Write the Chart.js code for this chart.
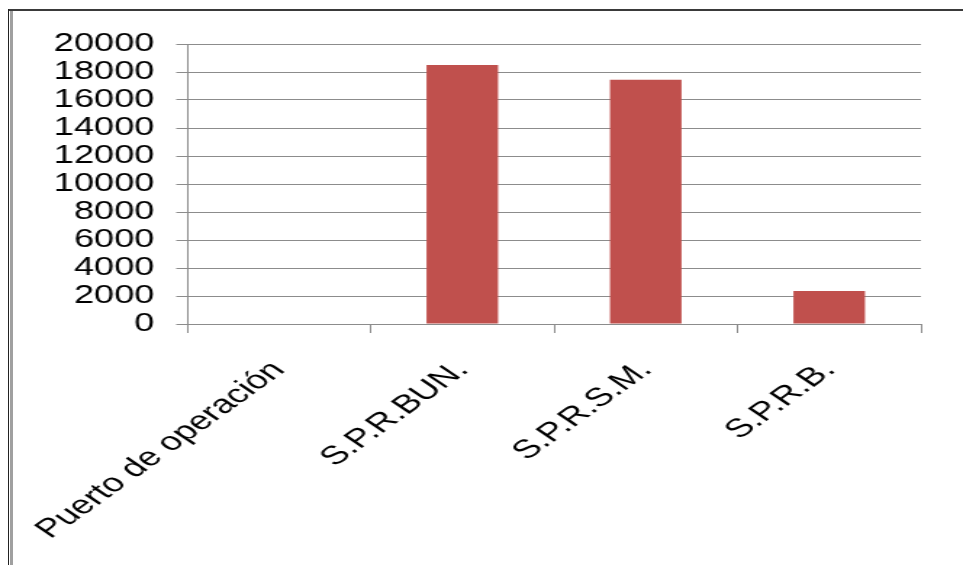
<!DOCTYPE html>
<html>
<head>
<meta charset="utf-8">
<script src="https://cdn.jsdelivr.net/npm/chart.js@4"></script>
<style>
  html, body { margin: 0; padding: 0; background: #fff; overflow: hidden; }
  #page { position: relative; width: 963px; height: 565px; overflow: hidden; }
  /* the chart is laid out narrow and stretched sideways */
  #stretch { position: absolute; left: 0; top: 0; width: 664px; height: 565px;
             transform: scaleX(1.4503); transform-origin: 0 0; }
  #frameTop { position: absolute; left: 8px; top: 9px; width: 955px; height: 2px; background: #3a3a3a; }
  #frameLeftDark { position: absolute; left: 8px; top: 9px; width: 1px; height: 556px; background: #222; }
  #frameLeftGray { position: absolute; left: 10px; top: 11px; width: 3px; height: 554px; background: #a0a0a0; }
</style>
</head>
<body>
<div id="page">
  <div id="stretch"><canvas id="c" width="664" height="565"></canvas></div>
  <div id="frameTop"></div>
  <div id="frameLeftDark"></div>
  <div id="frameLeftGray"></div>
</div>
<script>
// Categories along the horizontal axis
const categories = ["Puerto de operación", "S.P.R.BUN.", "S.P.R.S.M.", "S.P.R.B."];
// Series values (first category carries no bar)
const values = [null, 18500, 17450, 2350];
// Vertical axis range and step
const yMin = 0;
const yMax = 20000;
const yStep = 2000;

const gridGray = '#8c8c8c';
const fontFamily = '"Liberation Sans", Arial, sans-serif';

new Chart(document.getElementById('c'), {
  type: 'bar',
  data: {
    labels: categories,
    datasets: [{
      data: values,
      backgroundColor: '#C0504D',
      borderWidth: 0,
      barPercentage: 0.39,
      categoryPercentage: 1.0
    }]
  },
  options: {
    responsive: false,
    devicePixelRatio: 1,
    animation: false,
    layout: { padding: { top: 44, right: 29, bottom: 0, left: 0 } },
    plugins: { legend: { display: false }, tooltip: { enabled: false } },
    scales: {
      x: {
        offset: true,
        grid: { display: true, offset: true, drawOnChartArea: false, drawTicks: true,
                tickLength: 9, color: gridGray, lineWidth: 1 },
        border: { display: true, color: gridGray, width: 1 },
        ticks: { autoSkip: false, minRotation: 46, maxRotation: 46, padding: 22,
                 color: '#000', font: { family: fontFamily, size: 26 } },
        afterFit: s => {
          s.height = 241;
          // rotated labels may hang past the plot edges; keep the plot fixed
          s.paddingLeft = 0;
          s.paddingRight = 0;
        }
      },
      y: {
        min: yMin, max: yMax,
        grid: { color: gridGray, lineWidth: 1, drawTicks: true, tickLength: 7.5 },
        border: { display: true, color: gridGray, width: 1 },
        ticks: { stepSize: yStep, autoSkip: false, padding: 15, color: '#000',
                 font: { family: fontFamily, size: 25 },
                 callback: v => String(v) },
        afterFit: s => { s.width = 129; }
      }
    }
  }
});
</script>
</body>
</html>
